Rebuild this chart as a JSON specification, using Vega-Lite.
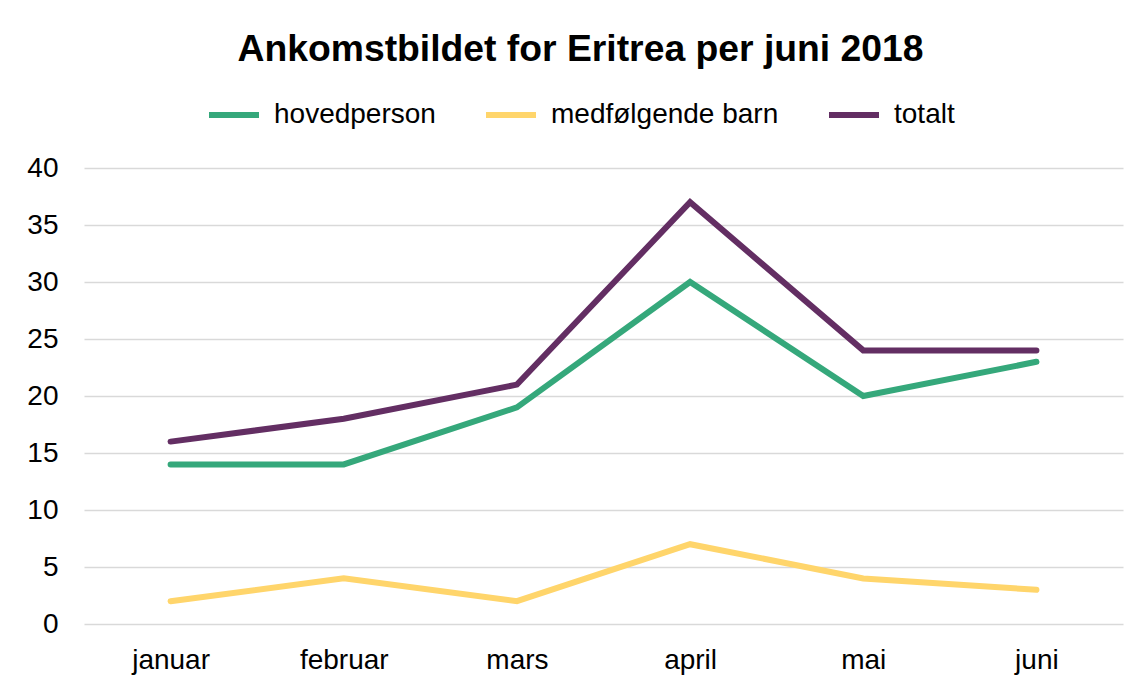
{
  "$schema": "https://vega.github.io/schema/vega-lite/v6.json",
  "autosize": "none",
  "width": 1039,
  "height": 456,
  "padding": {"left": 84, "top": 168, "right": 22, "bottom": 63},
  "background": "white",
  "title": {
    "text": "Ankomstbildet for Eritrea per juni 2018",
    "font": "Liberation Sans",
    "fontSize": 37.3,
    "fontWeight": "bold",
    "color": "#000000",
    "anchor": "middle",
    "dx": -23,
    "dy": 2,
    "offset": 20
  },
  "data": {
    "values": [
      {"maaned": "januar", "serie": "hovedperson", "antall": 14},
      {"maaned": "februar", "serie": "hovedperson", "antall": 14},
      {"maaned": "mars", "serie": "hovedperson", "antall": 19},
      {"maaned": "april", "serie": "hovedperson", "antall": 30},
      {"maaned": "mai", "serie": "hovedperson", "antall": 20},
      {"maaned": "juni", "serie": "hovedperson", "antall": 23},
      {"maaned": "januar", "serie": "medfølgende barn", "antall": 2},
      {"maaned": "februar", "serie": "medfølgende barn", "antall": 4},
      {"maaned": "mars", "serie": "medfølgende barn", "antall": 2},
      {"maaned": "april", "serie": "medfølgende barn", "antall": 7},
      {"maaned": "mai", "serie": "medfølgende barn", "antall": 4},
      {"maaned": "juni", "serie": "medfølgende barn", "antall": 3},
      {"maaned": "januar", "serie": "totalt", "antall": 16},
      {"maaned": "februar", "serie": "totalt", "antall": 18},
      {"maaned": "mars", "serie": "totalt", "antall": 21},
      {"maaned": "april", "serie": "totalt", "antall": 37},
      {"maaned": "mai", "serie": "totalt", "antall": 24},
      {"maaned": "juni", "serie": "totalt", "antall": 24}
    ]
  },
  "mark": {"type": "line", "strokeWidth": 6, "strokeCap": "round", "strokeJoin": "miter"},
  "encoding": {
    "x": {
      "field": "maaned",
      "type": "nominal",
      "sort": ["januar", "februar", "mars", "april", "mai", "juni"],
      "scale": {"type": "point", "padding": 0.5},
      "axis": {
        "title": null,
        "labelAngle": 0,
        "labelFont": "Liberation Sans",
        "labelFontSize": 28,
        "labelColor": "#000000",
        "labelPadding": 22,
        "ticks": false,
        "domain": false,
        "grid": false
      }
    },
    "y": {
      "field": "antall",
      "type": "quantitative",
      "scale": {"domain": [0, 40], "nice": false},
      "axis": {
        "title": null,
        "values": [0, 5, 10, 15, 20, 25, 30, 35, 40],
        "labelFont": "Liberation Sans",
        "labelFontSize": 28,
        "labelColor": "#000000",
        "labelPadding": 26,
        "ticks": false,
        "domain": false,
        "grid": true,
        "gridColor": "#d9d9d9",
        "gridWidth": 1.5
      }
    },
    "color": {
      "field": "serie",
      "type": "nominal",
      "scale": {
        "domain": ["hovedperson", "medfølgende barn", "totalt"],
        "range": ["#35a87b", "#ffd56b", "#632e63"]
      },
      "legend": {
        "title": null,
        "orient": "none",
        "legendX": 122,
        "legendY": -81,
        "direction": "horizontal",
        "symbolType": "stroke",
        "symbolSize": 2500,
        "symbolStrokeWidth": 6,
        "labelFont": "Liberation Sans",
        "labelFontSize": 28,
        "labelLimit": 400,
        "labelColor": "#000000",
        "labelOffset": 12,
        "columnPadding": 38
      }
    }
  },
  "config": {"view": {"stroke": null}}
}
